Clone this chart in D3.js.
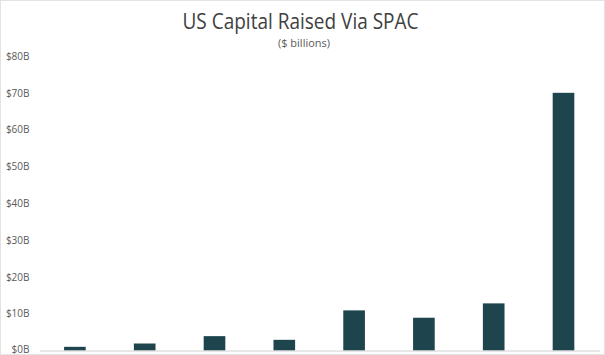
<!DOCTYPE html>
<html>
<head>
<meta charset="utf-8">
<script src="https://cdn.jsdelivr.net/npm/d3@7"></script>
<style>
  html, body { margin: 0; padding: 0; background: #fff; }
  svg { display: block; }
</style>
</head>
<body>
<svg id="chart" width="605" height="355"></svg>
<script>
// Data
const categories = ["2013", "2014", "2015", "2016", "2017", "2018", "2019", "2020"];
const values = [1.0, 1.9, 3.9, 2.9, 10.9, 8.9, 12.8, 70];
const yTicks = [0, 10, 20, 30, 40, 50, 60, 70, 80];
const titleText = "US Capital Raised Via SPAC";
const subtitleText = "($ billions)";

const svg = d3.select("#chart");
const W = 605, H = 355;

// frame
svg.append("rect")
  .attr("x", 0.5).attr("y", 0.5)
  .attr("width", W - 1).attr("height", H - 1)
  .attr("fill", "#fff")
  .attr("stroke", "#e3e3e3");

const x = d3.scaleBand()
  .domain(categories)
  .range([40, 598.4])
  .paddingInner(0.69)
  .paddingOuter(0.345);

const y = d3.scaleLinear()
  .domain([0, 80])
  .range([350.5, 56]);

// title
svg.append("text")
  .attr("x", 300.5).attr("y", 29)
  .attr("text-anchor", "middle")
  .attr("font-family", "Open Sans, sans-serif")
  .attr("font-size", 21)
  .attr("fill", "#404040")
  .attr("textLength", 236)
  .attr("lengthAdjust", "spacingAndGlyphs")
  .text(titleText);

svg.append("text")
  .attr("x", 304).attr("y", 46.5)
  .attr("text-anchor", "middle")
  .attr("font-family", "Open Sans, sans-serif")
  .attr("font-size", 10)
  .attr("fill", "#595959")
  .attr("textLength", 52)
  .attr("lengthAdjust", "spacingAndGlyphs")
  .text(subtitleText);

// y axis labels (no line, no ticks)
const yAxis = d3.axisLeft(y)
  .tickValues(yTicks)
  .tickSize(0)
  .tickPadding(0)
  .tickFormat(d => "$" + d + "B");

const gy = svg.append("g")
  .attr("transform", "translate(29.5,0)")
  .call(yAxis);
gy.select(".domain").remove();
gy.selectAll("text")
  .attr("font-family", "Open Sans, sans-serif")
  .attr("font-size", 10)
  .attr("fill", "#595959")
  .attr("y", d => d === 0 ? -1.5 : 0);

// bars
svg.append("g")
  .selectAll("rect")
  .data(values)
  .join("rect")
  .attr("x", (d, i) => x(categories[i]))
  .attr("width", x.bandwidth())
  .attr("y", d => y(d))
  .attr("height", d => y(0) - y(d))
  .attr("fill", "#1e444d");

// baseline
const gx = svg.append("g")
  .attr("transform", `translate(0,${y(0)})`)
  .call(d3.axisBottom(x).tickSize(0).tickFormat(""));
gx.select(".domain")
  .attr("d", "M40,0.5H600")
  .attr("stroke", "#d0d0d0")
  .attr("stroke-width", 1);
</script>
</body>
</html>
